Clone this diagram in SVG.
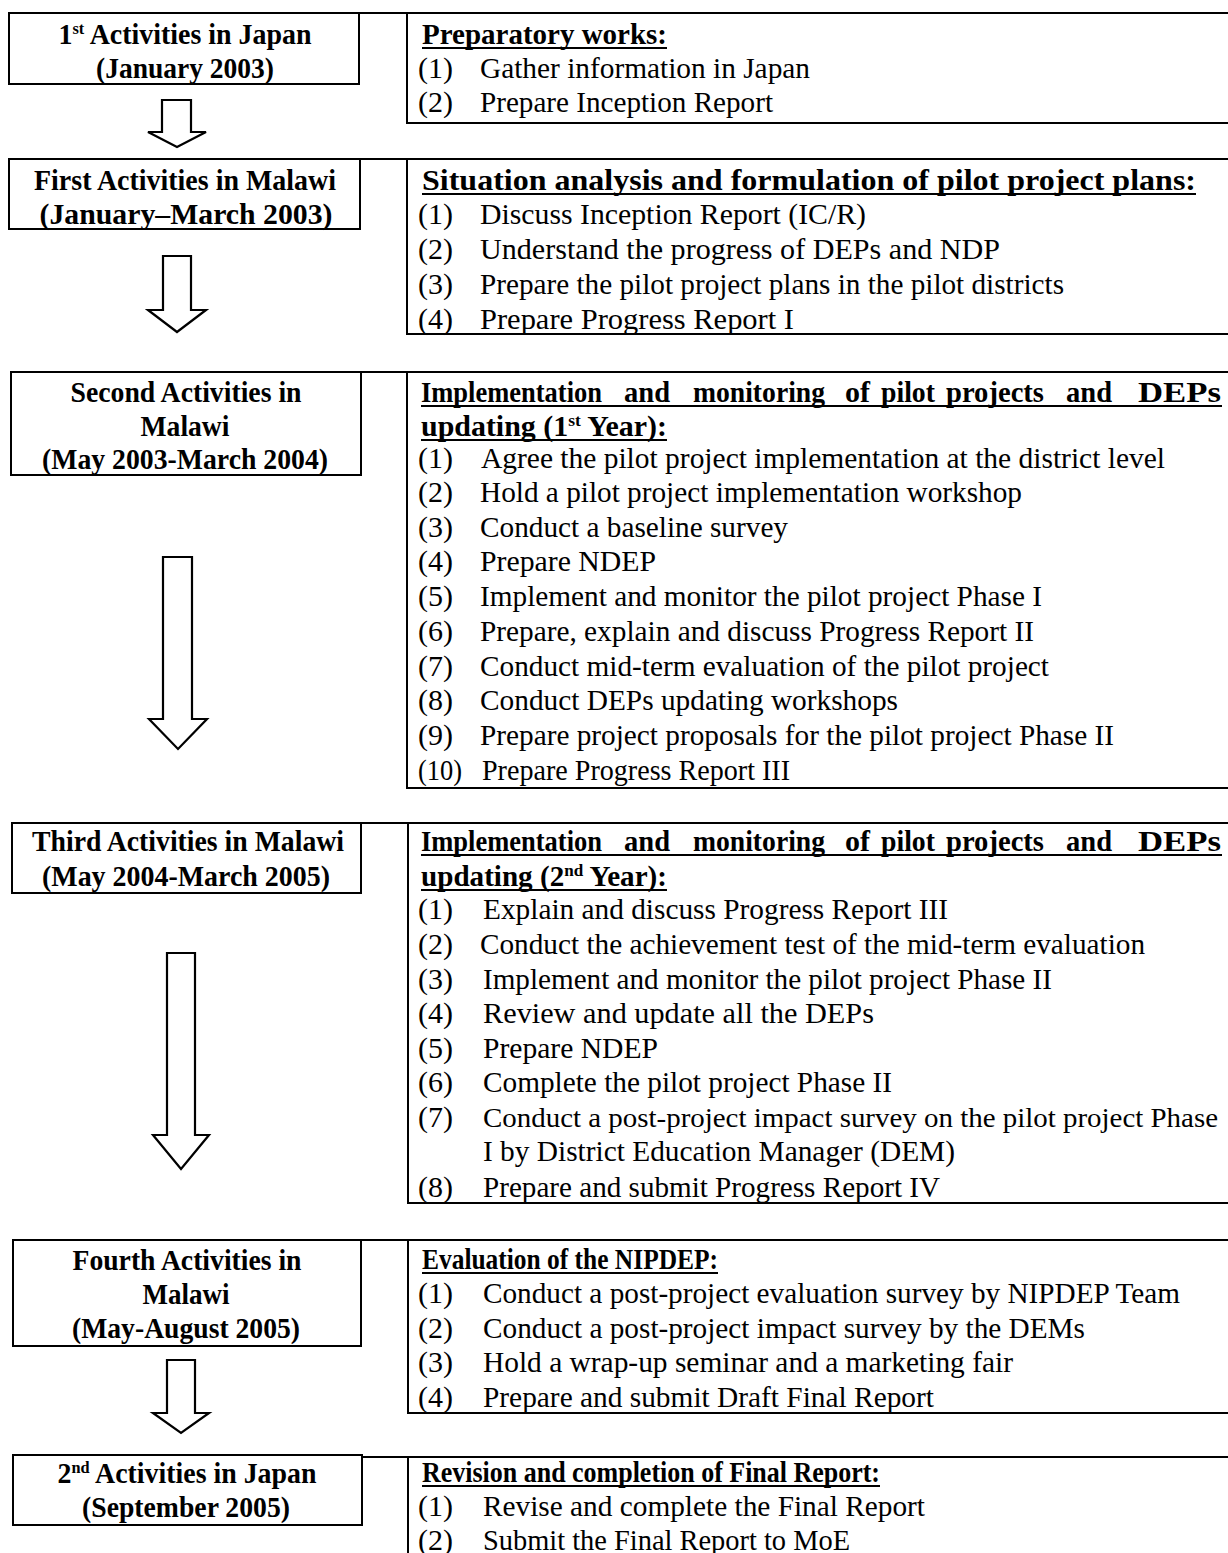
<svg xmlns="http://www.w3.org/2000/svg" width="1228" height="1553" viewBox="0 0 1228 1553">
<style>
.bg{fill:#fff}
.box{fill:none;stroke:#000;stroke-width:2}
.ul{stroke:#000;stroke-width:2}
.arrow{fill:#fff;stroke:#000;stroke-width:2.2;stroke-linejoin:miter}
.l{font-family:"Liberation Serif","Times New Roman",serif;font-size:29px;font-weight:bold;fill:#000;text-anchor:middle}
.h{font-family:"Liberation Serif","Times New Roman",serif;font-size:29px;font-weight:bold;fill:#000}
.t{font-family:"Liberation Serif","Times New Roman",serif;font-size:30px;fill:#000}
.sup{font-size:17px}
</style>
<rect class="bg" x="0" y="0" width="1228" height="1553"/>

<g id="connectors">
<polygon class="arrow" points="162,100 191,100 191,132 206,132 177,147 148,132 162,132"/>
<polygon class="arrow" points="163,256 191,256 191,310 206,310 177,332 148,310 163,310"/>
<polygon class="arrow" points="163,557 192,557 192,719 207,719 178,749 149,719 163,719"/>
<polygon class="arrow" points="167,953 195,953 195,1135 209,1135 181,1169 153,1135 167,1135"/>
<polygon class="arrow" points="167,1360 195,1360 195,1413 209,1413 181,1433 153,1413 167,1413"/>
</g>

<g id="stage1">
<rect class="box" x="9" y="13" width="350" height="71"/>
<text class="l" x="185" y="44" textLength="253" lengthAdjust="spacingAndGlyphs">1<tspan class="sup" dy="-10">st</tspan><tspan dy="10"> Activities in Japan</tspan></text>
<text class="l" x="185" y="78" textLength="178" lengthAdjust="spacingAndGlyphs">(January 2003)</text>
</g>
<g id="tasks1">
<path class="box" d="M359,13 H1232 M407,13 V123 H1232"/>
<text class="h" x="422" y="44" textLength="245" lengthAdjust="spacingAndGlyphs">Preparatory works:</text>
<line class="ul" x1="422" y1="48" x2="667" y2="48"/>
<text class="t" x="418" y="78">(1)</text><text class="t" x="480" y="78" textLength="330" lengthAdjust="spacingAndGlyphs">Gather information in Japan</text>
<text class="t" x="418" y="112">(2)</text><text class="t" x="480" y="112" textLength="293" lengthAdjust="spacingAndGlyphs">Prepare Inception Report</text>
</g>

<g id="stage2">
<rect class="box" x="9" y="159" width="351" height="70"/>
<text class="l" x="185" y="190" textLength="302" lengthAdjust="spacingAndGlyphs">First Activities in Malawi</text>
<text class="l" x="186" y="224" textLength="293" lengthAdjust="spacingAndGlyphs">(January–March 2003)</text>
</g>
<g id="tasks2">
<path class="box" d="M360,159 H1232 M407,159 V334 H1232"/>
<text class="h" x="422" y="190" textLength="774" lengthAdjust="spacingAndGlyphs">Situation analysis and formulation of pilot project plans:</text>
<line class="ul" x1="422" y1="194" x2="1196" y2="194"/>
<text class="t" x="418" y="224">(1)</text><text class="t" x="480" y="224" textLength="386" lengthAdjust="spacingAndGlyphs">Discuss Inception Report (IC/R)</text>
<text class="t" x="418" y="259">(2)</text><text class="t" x="480" y="259" textLength="520" lengthAdjust="spacingAndGlyphs">Understand the progress of DEPs and NDP</text>
<text class="t" x="418" y="294">(3)</text><text class="t" x="480" y="294" textLength="584" lengthAdjust="spacingAndGlyphs">Prepare the pilot project plans in the pilot districts</text>
<text class="t" x="418" y="329">(4)</text><text class="t" x="480" y="329" textLength="314" lengthAdjust="spacingAndGlyphs">Prepare Progress Report I</text>
</g>

<g id="stage3">
<rect class="box" x="11" y="372" width="350" height="103"/>
<text class="l" x="186" y="402" textLength="231" lengthAdjust="spacingAndGlyphs">Second Activities in</text>
<text class="l" x="185" y="436" textLength="89" lengthAdjust="spacingAndGlyphs">Malawi</text>
<text class="l" x="185" y="469" textLength="286" lengthAdjust="spacingAndGlyphs">(May 2003-March 2004)</text>
</g>
<g id="tasks3">
<path class="box" d="M361,372 H1232 M407,372 V788 H1232"/>
<text class="h" y="402"><tspan x="421" textLength="181" lengthAdjust="spacingAndGlyphs">Implementation</tspan> <tspan x="624" textLength="46" lengthAdjust="spacingAndGlyphs">and</tspan> <tspan x="693" textLength="132" lengthAdjust="spacingAndGlyphs">monitoring</tspan> <tspan x="845" textLength="25" lengthAdjust="spacingAndGlyphs">of</tspan> <tspan x="881" textLength="54" lengthAdjust="spacingAndGlyphs">pilot</tspan> <tspan x="946" textLength="98" lengthAdjust="spacingAndGlyphs">projects</tspan> <tspan x="1066" textLength="46" lengthAdjust="spacingAndGlyphs">and</tspan> <tspan x="1138" textLength="83" lengthAdjust="spacingAndGlyphs">DEPs</tspan></text>
<line class="ul" x1="421" y1="406" x2="1222" y2="406"/>
<text class="h" x="421" y="436" textLength="246" lengthAdjust="spacingAndGlyphs">updating (1<tspan class="sup" dy="-10">st</tspan><tspan dy="10"> Year):</tspan></text>
<line class="ul" x1="421" y1="440" x2="667" y2="440"/>
<text class="t" x="418" y="468">(1)</text><text class="t" x="481" y="468" textLength="684" lengthAdjust="spacingAndGlyphs">Agree the pilot project implementation at the district level</text>
<text class="t" x="418" y="502">(2)</text><text class="t" x="480" y="502" textLength="542" lengthAdjust="spacingAndGlyphs">Hold a pilot project implementation workshop</text>
<text class="t" x="418" y="537">(3)</text><text class="t" x="480" y="537" textLength="308" lengthAdjust="spacingAndGlyphs">Conduct a baseline survey</text>
<text class="t" x="418" y="571">(4)</text><text class="t" x="480" y="571" textLength="176" lengthAdjust="spacingAndGlyphs">Prepare NDEP</text>
<text class="t" x="418" y="606">(5)</text><text class="t" x="480" y="606" textLength="562" lengthAdjust="spacingAndGlyphs">Implement and monitor the pilot project Phase I</text>
<text class="t" x="418" y="641">(6)</text><text class="t" x="480" y="641" textLength="554" lengthAdjust="spacingAndGlyphs">Prepare, explain and discuss Progress Report II</text>
<text class="t" x="418" y="676">(7)</text><text class="t" x="480" y="676" textLength="569" lengthAdjust="spacingAndGlyphs">Conduct mid-term evaluation of the pilot project</text>
<text class="t" x="418" y="710">(8)</text><text class="t" x="480" y="710" textLength="418" lengthAdjust="spacingAndGlyphs">Conduct DEPs updating workshops</text>
<text class="t" x="418" y="745">(9)</text><text class="t" x="480" y="745" textLength="634" lengthAdjust="spacingAndGlyphs">Prepare project proposals for the pilot project Phase II</text>
<text class="t" x="418" y="780" textLength="44" lengthAdjust="spacingAndGlyphs">(10)</text><text class="t" x="482" y="780" textLength="308" lengthAdjust="spacingAndGlyphs">Prepare Progress Report III</text>
</g>

<g id="stage4">
<rect class="box" x="12" y="823" width="349" height="70"/>
<text class="l" x="188" y="851" textLength="312" lengthAdjust="spacingAndGlyphs">Third Activities in Malawi</text>
<text class="l" x="186" y="886" textLength="288" lengthAdjust="spacingAndGlyphs">(May 2004-March 2005)</text>
</g>
<g id="tasks4">
<path class="box" d="M361,823 H1232 M408,823 V1203 H1232"/>
<text class="h" y="851"><tspan x="421" textLength="181" lengthAdjust="spacingAndGlyphs">Implementation</tspan> <tspan x="624" textLength="46" lengthAdjust="spacingAndGlyphs">and</tspan> <tspan x="693" textLength="132" lengthAdjust="spacingAndGlyphs">monitoring</tspan> <tspan x="845" textLength="25" lengthAdjust="spacingAndGlyphs">of</tspan> <tspan x="881" textLength="54" lengthAdjust="spacingAndGlyphs">pilot</tspan> <tspan x="946" textLength="98" lengthAdjust="spacingAndGlyphs">projects</tspan> <tspan x="1066" textLength="46" lengthAdjust="spacingAndGlyphs">and</tspan> <tspan x="1138" textLength="83" lengthAdjust="spacingAndGlyphs">DEPs</tspan></text>
<line class="ul" x1="421" y1="855" x2="1222" y2="855"/>
<text class="h" x="421" y="886" textLength="246" lengthAdjust="spacingAndGlyphs">updating (2<tspan class="sup" dy="-10">nd</tspan><tspan dy="10"> Year):</tspan></text>
<line class="ul" x1="421" y1="890" x2="667" y2="890"/>
<text class="t" x="418" y="919">(1)</text><text class="t" x="483" y="919" textLength="465" lengthAdjust="spacingAndGlyphs">Explain and discuss Progress Report III</text>
<text class="t" x="418" y="954">(2)</text><text class="t" x="480" y="954" textLength="665" lengthAdjust="spacingAndGlyphs">Conduct the achievement test of the mid-term evaluation</text>
<text class="t" x="418" y="989">(3)</text><text class="t" x="483" y="989" textLength="569" lengthAdjust="spacingAndGlyphs">Implement and monitor the pilot project Phase II</text>
<text class="t" x="418" y="1023">(4)</text><text class="t" x="483" y="1023" textLength="391" lengthAdjust="spacingAndGlyphs">Review and update all the DEPs</text>
<text class="t" x="418" y="1058">(5)</text><text class="t" x="483" y="1058" textLength="175" lengthAdjust="spacingAndGlyphs">Prepare NDEP</text>
<text class="t" x="418" y="1092">(6)</text><text class="t" x="483" y="1092" textLength="409" lengthAdjust="spacingAndGlyphs">Complete the pilot project Phase II</text>
<text class="t" x="418" y="1127">(7)</text><text class="t" x="483" y="1127" style="font-size:28px" textLength="735" lengthAdjust="spacingAndGlyphs">Conduct a post-project impact survey on the pilot project Phase</text>
<text class="t" x="483" y="1161" textLength="472" lengthAdjust="spacingAndGlyphs">I by District Education Manager (DEM)</text>
<text class="t" x="418" y="1197">(8)</text><text class="t" x="483" y="1197" textLength="457" lengthAdjust="spacingAndGlyphs">Prepare and submit Progress Report IV</text>
</g>

<g id="stage5">
<rect class="box" x="13" y="1240" width="348" height="106"/>
<text class="l" x="187" y="1270" textLength="229" lengthAdjust="spacingAndGlyphs">Fourth Activities in</text>
<text class="l" x="186" y="1304" textLength="87" lengthAdjust="spacingAndGlyphs">Malawi</text>
<text class="l" x="186" y="1338" textLength="228" lengthAdjust="spacingAndGlyphs">(May-August 2005)</text>
</g>
<g id="tasks5">
<path class="box" d="M361,1240 H1232 M408,1240 V1413 H1232"/>
<text class="h" x="422" y="1269" textLength="296" lengthAdjust="spacingAndGlyphs">Evaluation of the NIPDEP:</text>
<line class="ul" x1="422" y1="1273" x2="718" y2="1273"/>
<text class="t" x="418" y="1303">(1)</text><text class="t" x="483" y="1303" textLength="697" lengthAdjust="spacingAndGlyphs">Conduct a post-project evaluation survey by NIPDEP Team</text>
<text class="t" x="418" y="1338">(2)</text><text class="t" x="483" y="1338" textLength="602" lengthAdjust="spacingAndGlyphs">Conduct a post-project impact survey by the DEMs</text>
<text class="t" x="418" y="1372">(3)</text><text class="t" x="483" y="1372" textLength="530" lengthAdjust="spacingAndGlyphs">Hold a wrap-up seminar and a marketing fair</text>
<text class="t" x="418" y="1407">(4)</text><text class="t" x="483" y="1407" textLength="451" lengthAdjust="spacingAndGlyphs">Prepare and submit Draft Final Report</text>
</g>

<g id="stage6">
<rect class="box" x="13" y="1455" width="349" height="70"/>
<text class="l" x="187" y="1483" textLength="259" lengthAdjust="spacingAndGlyphs">2<tspan class="sup" dy="-10">nd</tspan><tspan dy="10"> Activities in Japan</tspan></text>
<text class="l" x="186" y="1517" textLength="208" lengthAdjust="spacingAndGlyphs">(September 2005)</text>
</g>
<g id="tasks6">
<path class="box" d="M362,1457 H1232 M408,1457 V1560"/>
<text class="h" x="422" y="1482" textLength="458" lengthAdjust="spacingAndGlyphs">Revision and completion of Final Report:</text>
<line class="ul" x1="422" y1="1486" x2="880" y2="1486"/>
<text class="t" x="418" y="1516">(1)</text><text class="t" x="483" y="1516" textLength="442" lengthAdjust="spacingAndGlyphs">Revise and complete the Final Report</text>
<text class="t" x="418" y="1550">(2)</text><text class="t" x="483" y="1550" textLength="367" lengthAdjust="spacingAndGlyphs">Submit the Final Report to MoE</text>
</g>
</svg>
